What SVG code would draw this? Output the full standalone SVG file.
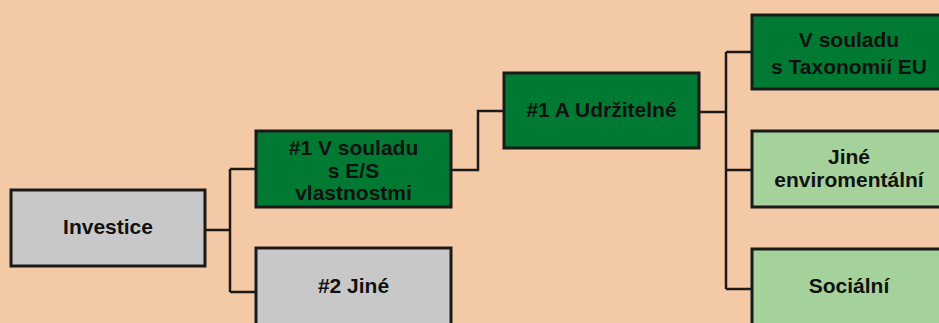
<svg xmlns="http://www.w3.org/2000/svg" width="939" height="323" viewBox="0 0 939 323">
<style>
.box{stroke:#1a1a1a;stroke-width:3}
.grey{fill:#c8c8c8}
.dk{fill:#007a33}
.lt{fill:#a5d19b}
.t{font-family:"Liberation Sans",Arial,sans-serif;font-weight:bold;font-size:21px;fill:#111;text-anchor:middle}
.c{fill:none;stroke:#1a1a1a;stroke-width:2.5}
</style>
<rect width="939" height="323" fill="#f4c9a6"/>
<g id="connectors">
<path class="c" d="M205 230H230M230 169V292M230 169H256M230 292H256"/>
<path class="c" d="M451 170H478V111H504"/>
<path class="c" d="M699 112H726M726 52V289M726 52H752M726 170H752M726 289H752"/>
</g>
<g id="investice">
<rect class="box grey" x="11" y="190" width="194" height="76"/>
<text class="t" x="108" y="234">Investice</text>
</g>
<g id="es">
<rect class="box dk" x="256" y="131" width="195" height="76"/>
<text class="t" x="353.5" y="155">#1 V souladu</text>
<text class="t" x="353.5" y="177.5">s E/S</text>
<text class="t" x="353.5" y="200">vlastnostmi</text>
</g>
<g id="jine2">
<rect class="box grey" x="256" y="248" width="195" height="80"/>
<text class="t" x="353.5" y="293">#2 Jiné</text>
</g>
<g id="udrzitelne">
<rect class="box dk" x="504" y="73" width="195" height="75"/>
<text class="t" x="601.5" y="117">#1 A Udržitelné</text>
</g>
<g id="taxonomie">
<rect class="box dk" x="752" y="15" width="195" height="74"/>
<text class="t" x="849" y="47">V souladu</text>
<text class="t" x="849" y="74">s Taxonomií EU</text>
</g>
<g id="jineenv">
<rect class="box lt" x="752" y="131" width="195" height="76"/>
<text class="t" x="849" y="164">Jiné</text>
<text class="t" x="849" y="187">enviromentální</text>
</g>
<g id="socialni">
<rect class="box lt" x="752" y="249" width="195" height="80"/>
<text class="t" x="849" y="293">Sociální</text>
</g>
</svg>
